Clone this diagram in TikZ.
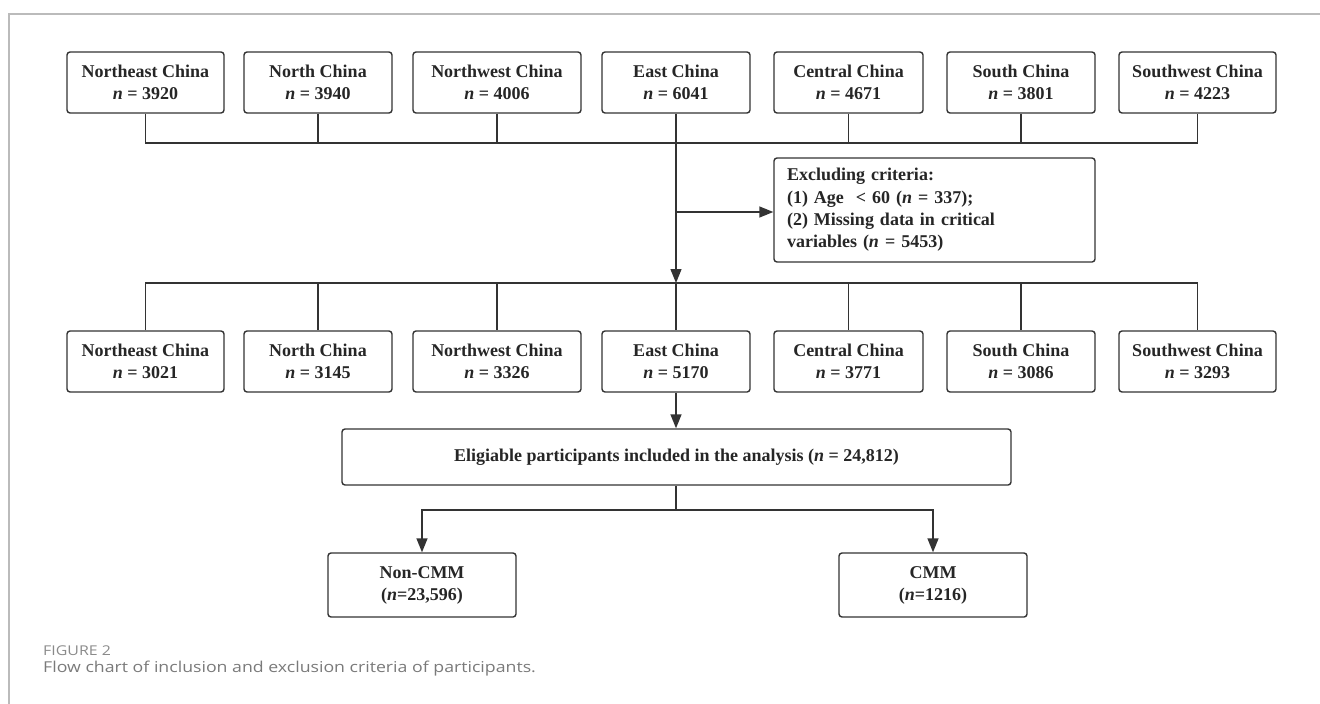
\documentclass[tikz,border=0pt]{standalone}
\usepackage{fontspec}
\setmainfont{Liberation Serif}
\newfontfamily\capfont{Open Sans}[FakeStretch=1.18]
\usetikzlibrary{arrows.meta}
\definecolor{ln}{HTML}{333333}
\definecolor{txt}{HTML}{262626}
\definecolor{frm}{HTML}{BBBBBB}
\definecolor{capc}{HTML}{7A7A7A}
\definecolor{figc}{HTML}{8A8A8A}
\begin{document}
\begin{tikzpicture}[x=1pt,y=-1pt,
  box/.style={draw=ln, line width=1.4pt, rounded corners=3pt, minimum height=61pt,
    inner sep=0pt, align=center, font=\fontsize{18}{22}\selectfont\bfseries, text=txt},
  conn/.style={draw=ln, line width=1.4pt},
  arr/.style={conn, -{Triangle[length=14pt,width=11pt]}},
]
\useasboundingbox (0,0) rectangle (1320,704);
\draw[frm, line width=1.5pt] (1320,14) -- (9,14) -- (9,704);

% top row
\node[box, minimum width=157pt] (t1) at (145.5,82.5) {Northeast China\\\textit{n} = 3920};
\node[box, minimum width=148pt] (t2) at (318,82.5) {North China\\\textit{n} = 3940};
\node[box, minimum width=168pt] (t3) at (497,82.5) {Northwest China\\\textit{n} = 4006};
\node[box, minimum width=148pt] (t4) at (676,82.5) {East China\\\textit{n} = 6041};
\node[box, minimum width=149pt] (t5) at (848.5,82.5) {Central China\\\textit{n} = 4671};
\node[box, minimum width=148pt] (t6) at (1021,82.5) {South China\\\textit{n} = 3801};
\node[box, minimum width=157pt] (t7) at (1197.5,82.5) {Southwest China\\\textit{n} = 4223};

% second row
\node[box, minimum width=157pt] (s1) at (145.5,361.5) {Northeast China\\\textit{n} = 3021};
\node[box, minimum width=148pt] (s2) at (318,361.5) {North China\\\textit{n} = 3145};
\node[box, minimum width=168pt] (s3) at (497,361.5) {Northwest China\\\textit{n} = 3326};
\node[box, minimum width=148pt] (s4) at (676,361.5) {East China\\\textit{n} = 5170};
\node[box, minimum width=149pt] (s5) at (848.5,361.5) {Central China\\\textit{n} = 3771};
\node[box, minimum width=148pt] (s6) at (1021,361.5) {South China\\\textit{n} = 3086};
\node[box, minimum width=157pt] (s7) at (1197.5,361.5) {Southwest China\\\textit{n} = 3293};

% exclusion
\node[box, minimum width=321pt, minimum height=104pt, align=left, text width=295pt,
  font=\fontsize{18}{22.4}\selectfont\bfseries] (ex) at (934.5,210)
  {Excluding criteria:\\(1) Age\ \ {<} 60 (\textit{n} = 337);\\(2) Missing data in critical\\variables (\textit{n} = 5453)};

% eligible
\node[box, minimum width=669pt, minimum height=56pt] (el) at (676.5,457)
  {Eligiable participants included in the analysis (\textit{n} = 24,812)};

% outcomes
\node[box, minimum width=188pt, minimum height=64pt] (nc) at (422,585) {Non-CMM\\(\textit{n}=23,596)};
\node[box, minimum width=188pt, minimum height=64pt] (cm) at (933,585) {CMM\\(\textit{n}=1216)};

% connectors
\coordinate (h1) at (0,143);
\coordinate (h2) at (0,283);
\coordinate (h3) at (0,510);
\coordinate (hx) at (0,212);
\draw[conn] (t1.south) -- (t1.south|-h1) -- (t7.south|-h1) -- (t7.south);
\foreach \k in {t2,t3,t5,t6} \draw[conn] (\k.south) -- (\k.south|-h1);
\draw[arr] (t4.south) -- (t4.south|-h2);
\draw[arr] (t4.south|-hx) -- (ex.west|-hx);
\draw[conn] (s1.north) -- (s1.north|-h2) -- (s7.north|-h2) -- (s7.north);
\foreach \k in {s2,s3,s4,s5,s6} \draw[conn] (\k.north|-h2) -- (\k.north);
\draw[arr] (s4.south) -- (s4.south|-el.north);
\draw[conn] (el.south-|s4.south) -- (s4.south|-h3);
\draw[arr] (s4.south|-h3) -| (nc.north);
\draw[arr] (s4.south|-h3) -| (cm.north);

% caption
\node[anchor=base west, inner sep=0pt, text=figc, font=\capfont\fontsize{13.5}{15}\selectfont] (fig) at (43,655) {FIGURE 2};
\node[anchor=base west, inner sep=0pt, text=capc, font=\capfont\fontsize{15}{18}\selectfont] (cap) at (43,672) {Flow chart of inclusion and exclusion criteria of participants.};
\end{tikzpicture}
\end{document}
